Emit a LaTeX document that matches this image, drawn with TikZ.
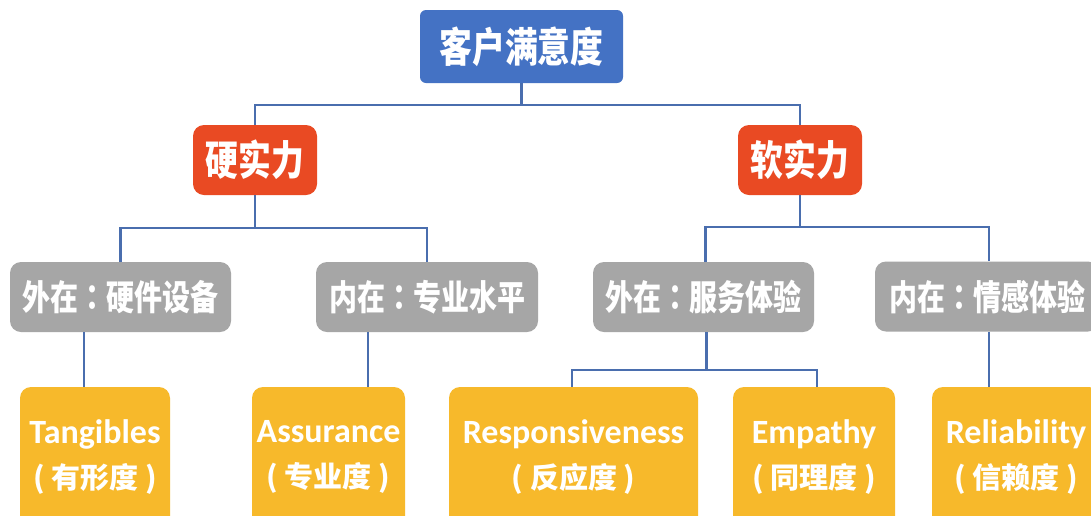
\documentclass[tikz,border=0pt]{standalone}
\usepackage{fontspec}
\newfontfamily\cjk{Noto Sans CJK SC}[FakeStretch=0.8]
\newfontfamily\cjkc{Noto Sans CJK TC}[FakeStretch=0.8]
\newfontfamily\cjkn{Noto Sans CJK SC}
\newfontfamily\lat{Carlito}
\definecolor{topblue}{HTML}{4472C4}
\definecolor{hotred}{HTML}{E94A23}
\definecolor{boxgray}{HTML}{A6A6A6}
\definecolor{boxgold}{HTML}{F7B92B}
\definecolor{linkblue}{HTML}{4A6EAE}
\tikzset{
  basebox/.style={rounded corners=11pt, inner sep=0pt, text=white, align=center},
  bluebox/.style={basebox, fill=topblue, rounded corners=6pt, minimum width=203pt, minimum height=73pt, font=\cjk\bfseries\fontsize{41}{45}\selectfont},
  redbox/.style={basebox, fill=hotred, minimum width=124pt, minimum height=70pt, font=\cjk\bfseries\fontsize{41}{45}\selectfont},
  graybox/.style={basebox, fill=boxgray, minimum height=70pt, font=\cjk\bfseries\fontsize{35}{40}\selectfont},
  goldbox/.style={basebox, fill=boxgold, minimum height=140pt, font=\lat\bfseries\fontsize{34}{45}\selectfont},
  link/.style={draw=linkblue, line width=2.4pt}
}
\newcommand{\zhline}[1]{{\cjkn\bfseries\fontsize{29}{45}\selectfont (\ #1\ )}}
\newcommand{\colonc}{{\cjkc\bfseries ：}}
\begin{document}
\begin{tikzpicture}[x=1pt, y=-1pt]
\clip (0,0) rectangle (1091,515);
\useasboundingbox (0,0) rectangle (1091,515);
\fill[white] (0,0) rectangle (1091,515);

\node[bluebox] (top) at (521.5,46.5) {客户满意度};
\node[redbox] (hard) at (255,160) {硬实力};
\node[redbox] (soft) at (800,160) {软实力};

\node[graybox, minimum width=221pt] (g1) at (120.5,297) {外在\colonc 硬件设备};
\node[graybox, minimum width=222pt] (g2) at (427,297) {内在\colonc 专业水平};
\node[graybox, minimum width=221pt] (g3) at (703.5,297) {外在\colonc 服务体验};
\node[graybox, minimum width=224pt] (g4) at (987,296.5) {内在\colonc 情感体验};

\node[goldbox, minimum width=150pt] (t1) at (95,457) {Tangibles\\\zhline{有形度}};
\node[goldbox, minimum width=153pt] (a1) at (328.5,457) {Assurance\\\zhline{专业度}};
\node[goldbox, minimum width=249pt] (r1) at (573.5,457) {Responsiveness\\\zhline{反应度}};
\node[goldbox, minimum width=162pt] (e1) at (814,457) {Empathy\\\zhline{同理度}};
\node[goldbox, minimum width=168pt] (rel) at (1016,457) {Reliability\\\zhline{信赖度}};

\draw[link] (top.south) -- ++(0,22) coordinate (tj) -| (hard.north);
\draw[link] (tj) -| (soft.north);

\draw[link] (hard.south) -- ++(0,33) coordinate (hj) -| (g1.north);
\draw[link] (hj) -| (g2.north);

\draw[link] (soft.south) -- ++(0,32) coordinate (sj) -| ([xshift=2pt]g3.north);
\draw[link] (sj) -| ([xshift=2pt]g4.north);

\draw[link] ([xshift=-36.5pt]g1.south) -- ([xshift=-36.5pt]g1.south |- t1.north);
\draw[link] ([xshift=-59pt]g2.south) -- ([xshift=-59pt]g2.south |- a1.north);

\draw[link] ([xshift=3pt]g3.south) -- ++(0,38) coordinate (gj) -| ([xshift=-1.5pt]r1.north);
\draw[link] (gj) -| ([xshift=3pt]e1.north);

\draw[link] ([xshift=2pt]g4.south) -- ([xshift=2pt]g4.south |- rel.north);
\end{tikzpicture}
\end{document}
